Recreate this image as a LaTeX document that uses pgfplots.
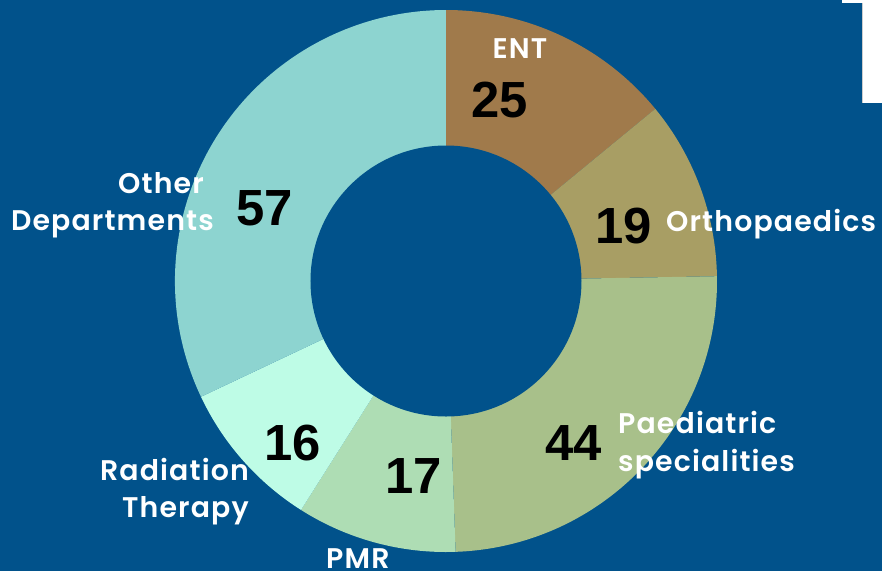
\documentclass[border=0pt]{standalone}
\usepackage{pgfplots}
\pgfplotsset{compat=1.18}
\usepackage{fontspec}
\setmainfont{Liberation Sans}
\newfontfamily\lab{Poppins SemiBold}[LetterSpace=4]
\definecolor{bg}{HTML}{01528B}
\definecolor{cENT}{HTML}{A07A4B}
\definecolor{cOrt}{HTML}{A89E64}
\definecolor{cPae}{HTML}{A8C08A}
\definecolor{cPMR}{HTML}{AEDDB4}
\definecolor{cRad}{HTML}{BEFCE6}
\definecolor{cOth}{HTML}{8DD4D0}
\newcommand{\num}[1]{{\fontsize{51}{51}\selectfont\bfseries #1}}
\newcommand{\lbl}[1]{{\lab\fontsize{28.5}{30}\selectfont #1}}
\begin{document}
\begin{tikzpicture}
\clip (0,0) rectangle (882bp,571bp);
\begin{axis}[x=1bp,y=1bp,y dir=reverse,xmin=0,xmax=882,ymin=0,ymax=571,
  hide axis,scale only axis,clip=false,anchor=south west,at={(0,0)}]
\fill[bg] (axis cs:0,0) rectangle (axis cs:882,571);
\fill[white] (axis cs:842,0) rectangle (axis cs:882,3);
\fill[white] (axis cs:863,3) rectangle (axis cs:882,103);
\draw[gray!40,line width=0.8bp] (axis cs:862.5,3) -- (axis cs:862.5,103);
% values: ENT, Orthopaedics, Paediatric specialities, PMR, Radiation Therapy, Other Departments
\foreach \v/\c [remember=\e as \s (initially 90)] in {25/cENT,19/cOrt,44/cPae,17/cPMR,16/cRad,57/cOth} {
  \pgfmathsetmacro{\e}{\s-\v/178*360}
  \edef\temp{\noexpand\fill[\c] (axis cs:446,281) -- ++(\s:271bp) arc[start angle=\s,end angle=\e,radius=271bp] -- cycle;}
  \temp
}
\fill[bg] (axis cs:446,281) circle[radius=135.5bp];
\node[anchor=base,inner sep=0,text=white] at (axis cs:520,58) {\lbl{ENT}};
\node[anchor=base,inner sep=0] at (axis cs:500,117) {\num{25}};
\node[anchor=base,inner sep=0] at (axis cs:624,243) {\num{19}};
\node[anchor=base west,inner sep=0,text=white] at (axis cs:666,231) {\lbl{Orthopaedics}};
\node[anchor=base,inner sep=0] at (axis cs:574,460) {\num{44}};
\node[anchor=base west,inner sep=0,text=white] at (axis cs:618,433) {\lbl{Paediatric}};
\node[anchor=base west,inner sep=0,text=white] at (axis cs:618,471) {\lbl{specialities}};
\node[anchor=base,inner sep=0] at (axis cs:414,493) {\num{17}};
\node[anchor=base west,inner sep=0,text=white] at (axis cs:326,568) {\lbl{PMR}};
\node[anchor=base,inner sep=0] at (axis cs:293,460) {\num{16}};
\node[anchor=base east,inner sep=0,text=white] at (axis cs:249,480) {\lbl{Radiation}};
\node[anchor=base east,inner sep=0,text=white] at (axis cs:249,517) {\lbl{Therapy}};
\node[anchor=base east,inner sep=0,text=white] at (axis cs:204,193) {\lbl{Other}};
\node[anchor=base east,inner sep=0,text=white] at (axis cs:214,230) {\lbl{Departments}};
\node[anchor=base,inner sep=0] at (axis cs:265,225) {\num{57}};
\end{axis}
\end{tikzpicture}
\end{document}
